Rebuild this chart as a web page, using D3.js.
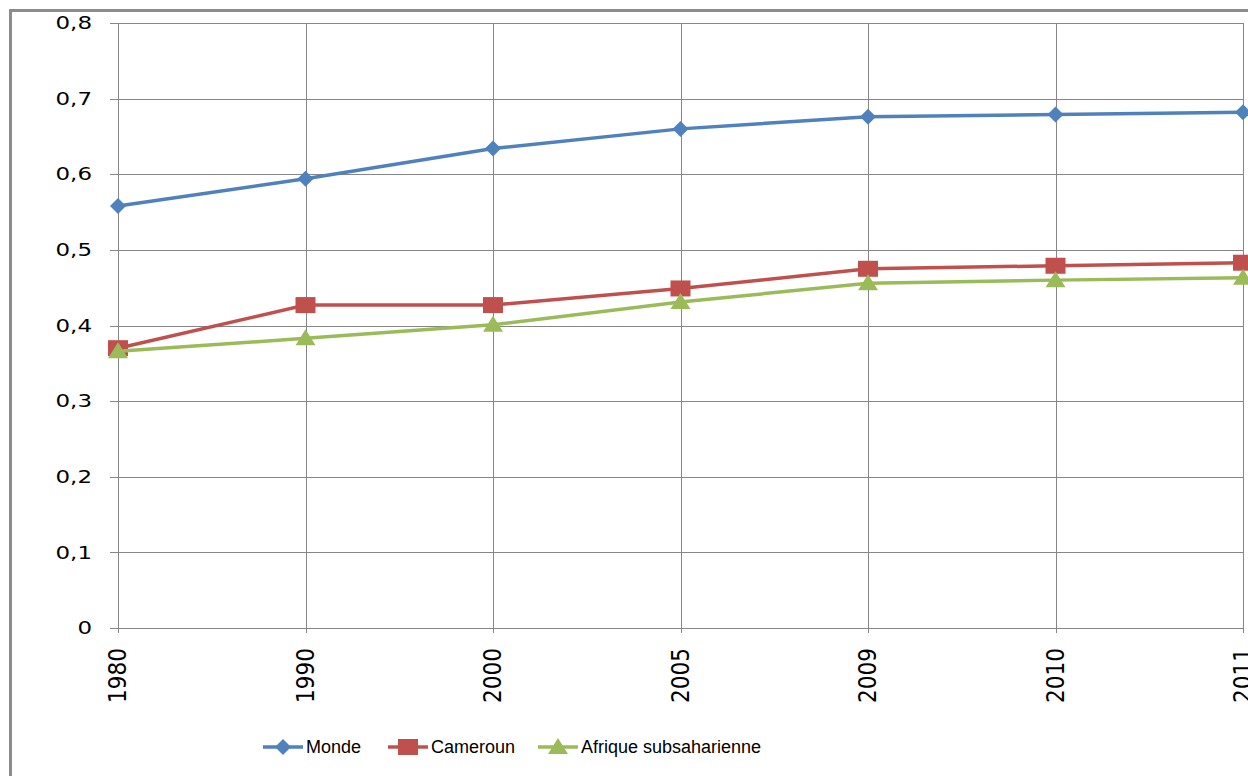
<!DOCTYPE html>
<html>
<head>
<meta charset="utf-8">
<script src="https://cdn.jsdelivr.net/npm/d3@7"></script>
<style>
  body { margin: 0; background: #fff; }
  svg { display: block; }
</style>
</head>
<body>
<div id="chart"></div>
<script>
var years = ["1980", "1990", "2000", "2005", "2009", "2010", "2011"];
var monde = [0.558, 0.594, 0.634, 0.660, 0.676, 0.679, 0.682];
var cameroun = [0.370, 0.427, 0.427, 0.449, 0.475, 0.479, 0.483];
var afrique = [0.366, 0.383, 0.401, 0.431, 0.456, 0.460, 0.463];
var yTicks = [0, 0.1, 0.2, 0.3, 0.4, 0.5, 0.6, 0.7, 0.8];
var seriesNames = ["Monde", "Cameroun", "Afrique subsaharienne"];

var width = 1248,
  height = 776;

var series = [
  { name: seriesNames[0], values: monde, color: "#4f81bd", marker: "diamond" },
  { name: seriesNames[1], values: cameroun, color: "#c0504d", marker: "square" },
  { name: seriesNames[2], values: afrique, color: "#9bbb59", marker: "triangle" }
];

var svg = d3.select("#chart")
  .append("svg")
  .attr("width", width)
  .attr("height", height)

// outer frame of the chart, cut off on right and bottom
svg.append("rect")
  .attr("x", 10.5)
  .attr("y", 10.5)
  .attr("width", 1300)
  .attr("height", 900)
  .attr("fill", "none")
  .attr("stroke", "#8c8c8c")
  .attr("stroke-width", 3)

var x = d3.scalePoint().domain(years).range([118, 1243])
var y = d3.scaleLinear().domain([0, 0.8]).range([628, 23])

var grid = svg.append("g")

// horizontal gridlines + tick marks
grid.selectAll(".hgrid")
  .data(yTicks)
  .enter().append("line")
  .attr("class", "hgrid")
  .attr("x1", 110)
  .attr("x2", x("2011"))
  .attr("y1", function(d) { return Math.round(y(d)) + 0.5 })
  .attr("y2", function(d) { return Math.round(y(d)) + 0.5 })
  .attr("stroke", "#868686")
  .attr("stroke-width", 1)

// vertical gridlines + tick marks
grid.selectAll(".vgrid")
  .data(years)
  .enter().append("line")
  .attr("class", "vgrid")
  .attr("x1", function(d) { return Math.round(x(d)) + 0.5 })
  .attr("x2", function(d) { return Math.round(x(d)) + 0.5 })
  .attr("y1", y(0.8))
  .attr("y2", y(0) + 5)
  .attr("stroke", "#868686")
  .attr("stroke-width", 1)

// y labels
svg.selectAll(".ylab")
  .data(yTicks)
  .enter().append("text")
  .attr("class", "ylab")
  .attr("transform", function(d) { return "translate(92," + y(d) + ") scale(1.35,1)" })
  .attr("text-anchor", "end")
  .attr("dy", "0.36em")
  .attr("font-family", "DejaVu Sans, sans-serif")
  .attr("font-size", 17)
  .attr("fill", "#000")
  .text(function(d) { return d === 0 ? "0" : d3.format(".1f")(d).replace(".", ",") })

// x labels, rotated
svg.selectAll(".xlab")
  .data(years)
  .enter().append("text")
  .attr("class", "xlab")
  .attr("transform", function(d) { return "translate(" + x(d) + ",648) rotate(-90)" })
  .attr("text-anchor", "end")
  .attr("dy", "0.35em")
  .attr("font-family", "Liberation Sans Narrow, DejaVu Sans Condensed, sans-serif")
  .attr("font-size", 24)
  .attr("fill", "#000")
  .text(function(d) { return d })

var line = d3.line()
  .x(function(d, i) { return x(years[i]) })
  .y(function(d) { return y(d) })

function drawMarker(g, type, color, cx, cy) {
  if (type === "diamond") {
    g.append("path")
      .attr("d", "M" + cx + "," + (cy - 8) + "L" + (cx + 8) + "," + cy + "L" + cx + "," + (cy + 8) + "L" + (cx - 8) + "," + cy + "Z")
      .attr("fill", color)
  } else if (type === "square") {
    g.append("rect")
      .attr("x", cx - 10)
      .attr("y", cy - 8)
      .attr("width", 20)
      .attr("height", 16)
      .attr("fill", color)
  } else {
    g.append("path")
      .attr("d", "M" + cx + "," + (cy - 9) + "L" + (cx + 10) + "," + (cy + 7) + "L" + (cx - 10) + "," + (cy + 7) + "Z")
      .attr("fill", color)
  }
}

series.forEach(function(s) {
  var g = svg.append("g")
  g.append("path")
    .datum(s.values)
    .attr("d", line)
    .attr("fill", "none")
    .attr("stroke", s.color)
    .attr("stroke-width", 3.5)
  s.values.forEach(function(v, i) {
    drawMarker(g, s.marker, s.color, x(years[i]), y(v))
  })
})

// legend
var legendX = [263, 388, 538];
var legend = svg.append("g")
series.forEach(function(s, i) {
  var lx = legendX[i], ly = 747;
  legend.append("line")
    .attr("x1", lx)
    .attr("x2", lx + 40)
    .attr("y1", ly)
    .attr("y2", ly)
    .attr("stroke", s.color)
    .attr("stroke-width", 3.5)
  drawMarker(legend, s.marker, s.color, lx + 20, ly)
  legend.append("text")
    .attr("x", lx + 43)
    .attr("y", ly)
    .attr("dy", "0.35em")
    .attr("font-family", "Liberation Sans, Arial, sans-serif")
    .attr("font-size", 18)
    .attr("fill", "#000")
    .text(s.name)
})
</script>
</body>
</html>
